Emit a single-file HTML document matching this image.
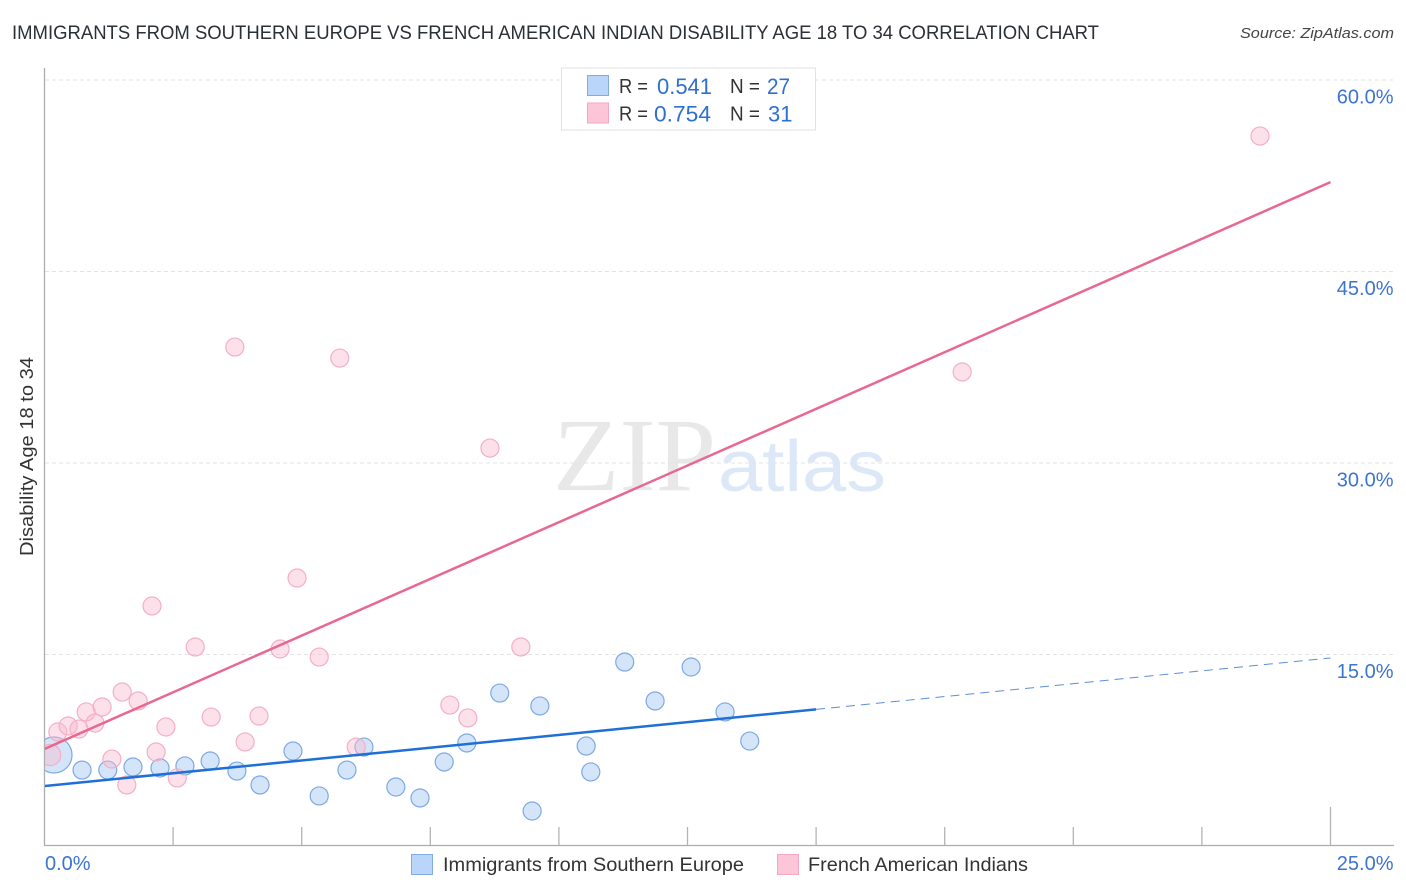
<!DOCTYPE html>
<html lang="en">
<head>
<meta charset="utf-8">
<title>Correlation Chart</title>
<style>
html,body{margin:0;padding:0;background:#fff;width:1406px;height:892px;overflow:hidden}
svg{display:block}
text{font-family:"Liberation Sans",sans-serif}
</style>
</head>
<body>
<svg id="chart" width="1406" height="892" viewBox="0 0 1406 892" xmlns="http://www.w3.org/2000/svg">
  <defs><clipPath id="plot-clip"><rect x="45" y="68" width="1349" height="778"/></clipPath></defs>
  <rect x="0" y="0" width="1406" height="892" fill="#fff"/>
  <text x="12" y="39" font-size="19" fill="#2b2f36" textLength="1087" lengthAdjust="spacingAndGlyphs">IMMIGRANTS FROM SOUTHERN EUROPE VS FRENCH AMERICAN INDIAN DISABILITY AGE 18 TO 34 CORRELATION CHART</text>
  <text x="1394" y="38" font-size="15" font-style="italic" fill="#444" text-anchor="end" textLength="154" lengthAdjust="spacingAndGlyphs">Source: ZipAtlas.com</text>
  <text x="553" y="490" font-size="104" fill="#e8e8e8" style="font-family:'Liberation Serif',serif" textLength="163" lengthAdjust="spacingAndGlyphs">ZIP</text>
  <text x="718" y="491" font-size="72" fill="#dce8f8" textLength="168" lengthAdjust="spacingAndGlyphs">atlas</text>
  <g id="grid"></g>
  <g id="axes"></g>
  <g id="points" clip-path="url(#plot-clip)"></g>
  <g id="trends" clip-path="url(#plot-clip)"></g>
  <g id="ticklabels"></g>
  <text transform="translate(33 456.500) rotate(-90)" font-size="18" fill="#333" text-anchor="middle" textLength="199" lengthAdjust="spacingAndGlyphs">Disability Age 18 to 34</text>

  <g>
    <rect x="561.500" y="68" width="254" height="62" fill="#fff" stroke="#e2e2e2" stroke-width="1"/>
    <rect x="587.500" y="75.500" width="21" height="20" fill="#b9d5fa" stroke="#82ace0" stroke-width="1"/>
    <rect x="587.500" y="103" width="21" height="20" fill="#fcc6d8" stroke="#f3a9c2" stroke-width="1"/>
    <text x="619" y="93" font-size="20" fill="#333" textLength="29" lengthAdjust="spacingAndGlyphs">R =</text>
    <text x="657" y="94" font-size="22" fill="#2f6fd0" textLength="55" lengthAdjust="spacingAndGlyphs">0.541</text>
    <text x="730" y="93" font-size="20" fill="#333" textLength="30" lengthAdjust="spacingAndGlyphs">N =</text>
    <text x="767" y="94" font-size="22" fill="#2f6fd0" textLength="23" lengthAdjust="spacingAndGlyphs">27</text>
    <text x="619" y="120.500" font-size="20" fill="#333" textLength="29" lengthAdjust="spacingAndGlyphs">R =</text>
    <text x="654" y="121.500" font-size="22" fill="#2f6fd0" textLength="57" lengthAdjust="spacingAndGlyphs">0.754</text>
    <text x="730" y="120.500" font-size="20" fill="#333" textLength="30" lengthAdjust="spacingAndGlyphs">N =</text>
    <text x="768" y="121.500" font-size="22" fill="#2f6fd0">31</text>
  </g>

  <g>
    <rect x="411.500" y="854.500" width="21" height="20" fill="#b9d5fa" stroke="#82ace0" stroke-width="1"/>
    <text x="443" y="871" font-size="19.500" fill="#333" textLength="301" lengthAdjust="spacingAndGlyphs">Immigrants from Southern Europe</text>
    <rect x="777.500" y="854.500" width="21" height="20" fill="#fcc6d8" stroke="#f3a9c2" stroke-width="1"/>
    <text x="808" y="871" font-size="19.500" fill="#333" textLength="220" lengthAdjust="spacingAndGlyphs">French American Indians</text>
  </g>
</svg>
<script>
// Chart data (percent units)
const yTicks = [15, 30, 45, 60];
const yTickLabels = ["15.0%", "30.0%", "45.0%", "60.0%"];
const xTicks = [0, 2.5, 5, 7.5, 10, 12.5, 15, 17.5, 20, 22.5, 25];
const xEndLabels = ["0.0%", "25.0%"];

const blueX = [0.185, 0.73, 1.23, 1.72, 2.245, 2.73, 3.22, 3.74, 4.19, 4.83, 5.34, 5.88, 6.21, 6.83, 7.30, 7.77, 8.21, 8.85, 9.48, 9.63, 10.53, 10.62, 11.28, 11.87, 12.57, 13.23, 13.71];
const blueY = [7.13, 5.95, 5.95, 6.19, 6.11, 6.27, 6.66, 5.87, 4.78, 7.44, 3.92, 5.95, 7.75, 4.62, 3.76, 6.58, 8.07, 11.98, 2.74, 10.97, 7.83, 5.80, 14.41, 11.36, 14.02, 10.50, 8.22];
const blueWeight = [4, 1, 1, 1, 1, 1, 1, 1, 1, 1, 1, 1, 1, 1, 1, 1, 1, 1, 1, 1, 1, 1, 1, 1, 1, 1, 1];

const pinkX = [0.11, 0.26, 0.46, 0.67, 0.81, 0.98, 1.12, 1.31, 1.51, 1.60, 1.82, 2.09, 2.17, 2.36, 2.58, 2.93, 3.24, 3.70, 3.90, 4.17, 4.58, 4.91, 5.34, 5.74, 6.06, 7.88, 8.23, 8.66, 9.26, 17.84, 23.63];
const pinkY = [7.13, 8.93, 9.40, 9.16, 10.50, 9.63, 10.89, 6.81, 12.06, 4.78, 11.36, 18.80, 7.36, 9.32, 5.33, 15.59, 10.10, 39.08, 8.15, 10.18, 15.43, 20.99, 14.80, 38.22, 7.75, 11.04, 10.03, 31.17, 15.59, 37.13, 55.61];
const pinkWeight = [1.4, 1, 1, 1, 1, 1, 1, 1, 1, 1, 1, 1, 1, 1, 1, 1, 1, 1, 1, 1, 1, 1, 1, 1, 1, 1, 1, 1, 1, 1, 1];

const blueTrendX = [0, 15];
const blueTrendY = [4.70, 10.70];
const blueForecastX = [15, 25];
const blueForecastY = [10.70, 14.73];
const pinkTrendX = [0, 25];
const pinkTrendY = [7.60, 52.00];

const NS = 'http://www.w3.org/2000/svg';
const sx = v => 44.5 + v * (1330.5 - 44.5) / 25;
const sy = v => 846 - v * (846 - 80) / 60;
const BASE_R = 9;

function make(parent, tag, attrs, text) {
  const el = document.createElementNS(NS, tag);
  for (const k in attrs) el.setAttribute(k, attrs[k]);
  if (text !== undefined) el.textContent = text;
  parent.appendChild(el);
  return el;
}

const gGrid = document.getElementById('grid');
const gAxes = document.getElementById('axes');
const gLabels = document.getElementById('ticklabels');
const gPoints = document.getElementById('points');
const gTrends = document.getElementById('trends');

[...yTicks].forEach((t, i) => {
  const line = make(gGrid, 'line', {x1: 45, x2: 1394, y1: sy(t), y2: sy(t), stroke: '#e3e3e3', 'stroke-width': 1, 'stroke-dasharray': '4 3'});
  
  
  const lab = make(gLabels, 'text', {x: 1393.5, y: sy(t) + 23.5, 'font-size': 20, fill: '#3c74d2', 'text-anchor': 'end'}, yTickLabels[i]);
  
  
});

xTicks.forEach((t, i) => {
  const top = i === xTicks.length - 1 ? 807 : 827;
  if (i === 0) return;
  const tick = make(gAxes, 'line', {x1: sx(t), x2: sx(t), y1: top, y2: 846, stroke: '#b4b4b4', 'stroke-width': 1.3});
  
  
});

const yAxis = make(gAxes, 'line', {x1: 44.5, x2: 44.5, y1: 68, y2: 846, stroke: '#adadad', 'stroke-width': 1.3});


const xAxis = make(gAxes, 'line', {x1: 44, x2: 1394, y1: 845.5, y2: 845.5, stroke: '#adadad', 'stroke-width': 1.3});



const xLabLeft = make(gLabels, 'text', {x: 45, y: 870, 'font-size': 20, fill: '#3c74d2'}, xEndLabels[0]);


const xLabRight = make(gLabels, 'text', {x: 1393.5, y: 870, 'font-size': 20, fill: '#3c74d2', 'text-anchor': 'end'}, xEndLabels[1]);



blueX.forEach((x, i) => {
  const c = make(gPoints, 'circle', {cx: sx(x), cy: sy(blueY[i]), r: BASE_R * Math.sqrt(blueWeight[i]), fill: 'rgba(170,203,245,0.5)', stroke: '#7ea9e3', 'stroke-width': 1.2});
  
  
});
pinkX.forEach((x, i) => {
  const c = make(gPoints, 'circle', {cx: sx(x), cy: sy(pinkY[i]), r: BASE_R * Math.sqrt(pinkWeight[i]), fill: 'rgba(248,187,208,0.45)', stroke: '#f3afc6', 'stroke-width': 1.2});
  
  
});

const trendBlue = make(gTrends, 'line', {x1: sx(blueTrendX[0]), y1: sy(blueTrendY[0]), x2: sx(blueTrendX[1]), y2: sy(blueTrendY[1]), stroke: '#1f6fd6', 'stroke-width': 2.5});


const forecastBlue = make(gTrends, 'line', {x1: sx(blueForecastX[0]), y1: sy(blueForecastY[0]), x2: sx(blueForecastX[1]), y2: sy(blueForecastY[1]), stroke: '#5b8fd6', 'stroke-width': 1, 'stroke-dasharray': '9 6'});


const trendPink = make(gTrends, 'line', {x1: sx(pinkTrendX[0]), y1: sy(pinkTrendY[0]), x2: sx(pinkTrendX[1]), y2: sy(pinkTrendY[1]), stroke: '#e8688f', 'stroke-width': 2.5});


</script>
</body>
</html>
